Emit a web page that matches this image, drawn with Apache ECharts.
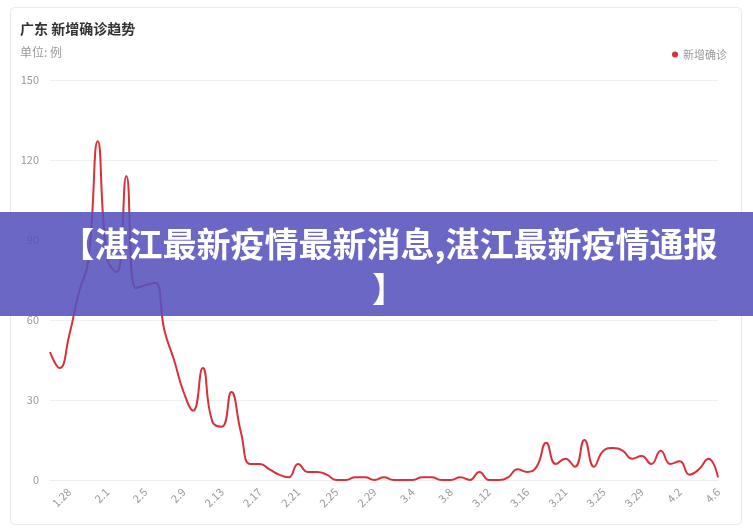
<!DOCTYPE html>
<html>
<head>
<meta charset="utf-8">
<script src="https://cdn.jsdelivr.net/npm/echarts@6/dist/echarts.min.js"></script>
<style>
html,body{margin:0;padding:0;background:#fff;}
#chart{width:753px;height:530px;}
</style>
</head>
<body>
<div id="chart"></div>
<script>
var categories = ['1.26','1.27','1.28','1.29','1.30','1.31',
  '2.1','2.2','2.3','2.4','2.5','2.6','2.7','2.8','2.9','2.10','2.11','2.12','2.13','2.14','2.15','2.16','2.17','2.18','2.19','2.20','2.21','2.22','2.23','2.24','2.25','2.26','2.27','2.28','2.29',
  '3.1','3.2','3.3','3.4','3.5','3.6','3.7','3.8','3.9','3.10','3.11','3.12','3.13','3.14','3.15','3.16','3.17','3.19','3.20',
  '3.21','3.22','3.23','3.24','3.25','3.26','3.27','3.28','3.29','3.30','3.31',
  '4.1','4.2','4.3','4.4','4.5','4.6'];
var newConfirmed = [48,42,54,70,82,127,83,78,114,72,
  73,74,56,45,33,26,42,22,20,33,
  18,6,6,4,2,1,6,3,3,2,
  0,0,1,1,0,1,0,0,0,1,
  1,0,0,1,0,3,0,0,1,4,
  3,5,14,6,8,5,15,5,11,12,
  11,8,9,6,11,6,7,2,4,8,1];
var yTicks = [0,30,60,90,120,150];
var titleText = '广东 新增确诊趋势';
var unitText = '单位: 例';
var seriesName = '新增确诊';
var bannerText = '【湛江最新疫情最新消息,湛江最新疫情通报\n】';

var FONT = '"Noto Sans CJK SC", "Noto Sans", sans-serif';
var chart = echarts.init(document.getElementById('chart'));
chart.setOption({
  animation: false,
  textStyle: {fontFamily: FONT},
  title: {
    text: titleText,
    subtext: unitText,
    left: 15, top: 17, itemGap: 10,
    textStyle: {fontSize: 14, fontWeight: 'bold', color: '#333', fontFamily: FONT},
    subtextStyle: {fontSize: 12, color: '#999', fontFamily: FONT}
  },
  legend: {
    data: [seriesName],
    right: 21, top: 44,
    icon: 'circle', itemWidth: 6, itemHeight: 6, itemGap: 4,
    textStyle: {fontSize: 11, color: '#999', fontFamily: FONT}
  },
  grid: {left: 50, right: 35, top: 80, bottom: 50},
  xAxis: {
    type: 'category',
    data: categories,
    boundaryGap: false,
    axisTick: {show: false},
    axisLine: {lineStyle: {color: '#eeeeee'}},
    axisLabel: {
      rotate: 45, fontSize: 11, color: '#999', margin: 10,
      interval: function (idx) { return idx % 4 === 2; }
    }
  },
  yAxis: {
    type: 'value',
    min: yTicks[0], max: yTicks[yTicks.length - 1], interval: yTicks[1] - yTicks[0],
    axisLine: {show: false},
    axisTick: {show: false},
    axisLabel: {fontSize: 11, color: '#999', margin: 11},
    splitLine: {lineStyle: {color: '#f0f0f0'}}
  },
  series: [{
    name: seriesName,
    type: 'line',
    data: newConfirmed,
    smooth: true,
    showSymbol: false,
    symbol: 'circle',
    itemStyle: {color: '#d9303a'},
    lineStyle: {color: '#d9303a', width: 2}
  }],
  graphic: [
    {
      type: 'rect', z: -10, silent: true,
      shape: {x: 10.5, y: 7.5, width: 731, height: 517, r: 4},
      style: {fill: 'none', stroke: '#e9e9e9', lineWidth: 1}
    },
    {
      type: 'rect', z: 100, silent: true,
      shape: {x: 0, y: 212, width: 753, height: 104},
      style: {fill: 'rgba(86,82,188,0.88)'}
    },
    {
      type: 'text', z: 101, silent: true,
      x: 389, y: 267,
      style: {
        text: bannerText,
        fill: '#ffffff',
        font: 'bold 34px ' + FONT,
        lineHeight: 45,
        align: 'center',
        verticalAlign: 'middle'
      }
    }
  ]
});
</script>
</body>
</html>
